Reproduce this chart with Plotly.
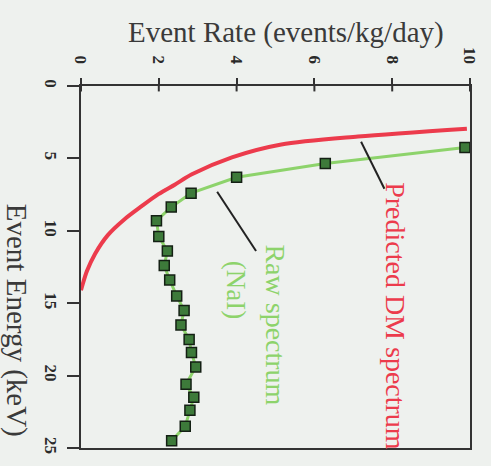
import plotly.graph_objects as go

# Raw NaI spectrum: event energy (keV) and measured rate (events/kg/day)
raw_energy = [4.25, 5.35, 6.3, 7.4, 8.36, 9.3, 10.4, 11.4, 12.4, 13.4, 14.5,
              15.5, 16.5, 17.5, 18.4, 19.4, 20.6, 21.5, 22.4, 23.5, 24.5]
raw_rate = [9.87, 6.28, 4.0, 2.83, 2.32, 1.94, 2.0, 2.22, 2.14, 2.28, 2.46,
            2.65, 2.57, 2.78, 2.84, 2.95, 2.7, 2.9, 2.8, 2.68, 2.33]

# Predicted dark-matter spectrum
dm_energy = [2.95, 3.49, 4.04, 4.93, 6.1, 6.8, 7.47, 8.3, 9.2, 10.3, 11.6, 12.8, 14.1]
dm_rate = [9.92, 7.12, 5.15, 3.88, 2.85, 2.42, 1.99, 1.56, 1.12, 0.69, 0.36, 0.15, 0.0]

x_ticks = [0, 2, 4, 6, 8, 10]
y_ticks = [0, 5, 10, 15, 20, 25]

serif = "Liberation Serif"
bg = "#eef1ee"
axis_col = "#333333"
red = "#ec3b4c"
green = "#8dd36b"

fig = go.Figure()

fig.add_trace(go.Scatter(
    x=dm_rate, y=dm_energy, mode="lines",
    line=dict(color=red, width=4, shape="spline", smoothing=0.8),
    hoverinfo="skip", showlegend=False,
))

fig.add_trace(go.Scatter(
    x=raw_rate, y=raw_energy, mode="lines+markers",
    line=dict(color=green, width=3),
    marker=dict(symbol="square", size=10, color="#3d7a3a",
                line=dict(color="#142014", width=1.5)),
    showlegend=False,
))

# Inner half of the top-axis ticks (they cross the axis line)
for v in x_ticks:
    fig.add_shape(type="line", xref="x", yref="paper",
                  x0=v, x1=v, y0=1, y1=0.985,
                  line=dict(color=axis_col, width=2))

# Pointer lines from labels to curves
fig.add_shape(type="line", xref="x", yref="y",
              x0=7.2, y0=3.85, x1=7.8, y1=7.1,
              line=dict(color="#222", width=2))
fig.add_shape(type="line", xref="x", yref="y",
              x0=3.5, y0=7.3, x1=4.5, y1=11.4,
              line=dict(color="#222", width=2))

fig.add_annotation(x=8.1, y=15.9, xref="x", yref="y", text="Predicted DM spectrum",
                   textangle=90, showarrow=False,
                   font=dict(family=serif, size=28, color=red))
fig.add_annotation(x=5.0, y=16.5, xref="x", yref="y", text="Raw spectrum",
                   textangle=90, showarrow=False,
                   font=dict(family=serif, size=28, color=green))
fig.add_annotation(x=3.97, y=14.1, xref="x", yref="y", text="(NaI)",
                   textangle=90, showarrow=False,
                   font=dict(family=serif, size=27, color=green))

fig.add_annotation(x=0.528, y=1.149, xref="paper", yref="paper",
                   text="Event Rate (events/kg/day)", showarrow=False,
                   xanchor="center", yanchor="middle",
                   font=dict(family=serif, size=29, color="#3a3a3a"))
fig.add_annotation(x=-0.166, y=0.353, xref="paper", yref="paper",
                   text="Event Energy (keV)", showarrow=False, textangle=90,
                   xanchor="center", yanchor="middle",
                   font=dict(family=serif, size=29, color="#3a3a3a"))

tickfont = dict(family=serif, size=17, color="#2a2a2a", weight="bold")

fig.update_layout(
    width=491, height=466,
    margin=dict(l=81, r=18, t=86, b=17),
    paper_bgcolor=bg, plot_bgcolor=bg,
    xaxis=dict(side="top", range=[0, 10], tickvals=x_ticks, ticktext=[str(v) for v in x_ticks],
               tickangle=90, ticks="outside", ticklen=6, tickwidth=2, tickcolor=axis_col,
               ticklabelstandoff=8,
               showline=True, linecolor=axis_col, linewidth=2, mirror=True,
               showgrid=False, zeroline=False, tickfont=tickfont),
    yaxis=dict(range=[25, 0], tickvals=y_ticks, ticktext=[str(v) for v in y_ticks],
               tickangle=90, ticks="outside", ticklen=12, tickwidth=2, tickcolor=axis_col,
               ticklabelstandoff=2,
               showline=True, linecolor=axis_col, linewidth=2, mirror=True,
               showgrid=False, zeroline=False, tickfont=tickfont),
)

fig.write_html("out.html")
